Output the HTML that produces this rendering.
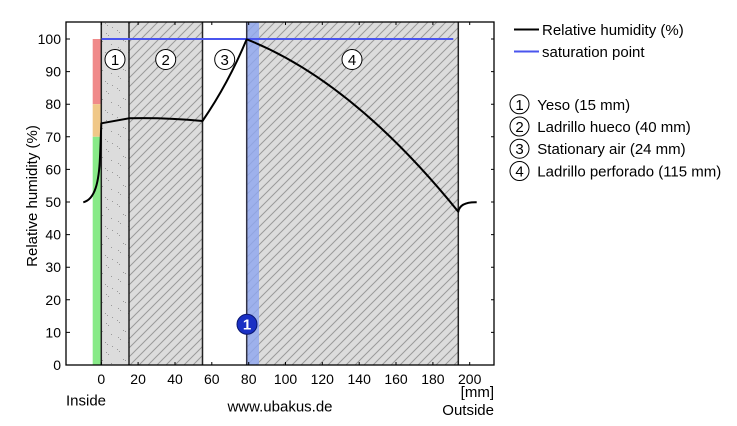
<!DOCTYPE html>
<html><head><meta charset="utf-8"><style>
html,body{margin:0;padding:0;background:#fff;}
svg{display:block;}
text{font-family:"Liberation Sans",Arial,sans-serif;font-size:15px;fill:#000;}
text.tk{font-size:14px;}
</style></head><body>
<svg width="737" height="426" viewBox="0 0 737 426" xmlns="http://www.w3.org/2000/svg">
<defs>
<pattern id="hatch" patternUnits="userSpaceOnUse" width="9" height="9">
<rect width="9" height="9" fill="#dcdcdc"/>
<path d="M-1,10 L10,-1 M-1,1 L1,-1 M8,10 L10,8" stroke="#9a9a9a" stroke-width="1"/>
</pattern>
<pattern id="speck" patternUnits="userSpaceOnUse" width="23" height="29">
<rect width="23" height="29" fill="#dcdcdc"/>
<g fill="#9a9a9a">
<rect x="2" y="1" width="1" height="1"/><rect x="4" y="3" width="1" height="1"/>
<rect x="14" y="4" width="1" height="1"/><rect x="16" y="6" width="1" height="1"/>
<rect x="8" y="11" width="1" height="1"/><rect x="10" y="12" width="1" height="1"/>
<rect x="19" y="15" width="1" height="1"/><rect x="3" y="18" width="1" height="1"/>
<rect x="5" y="20" width="1" height="1"/><rect x="13" y="23" width="1" height="1"/>
<rect x="15" y="25" width="1" height="1"/><rect x="20" y="27" width="1" height="1"/>
</g>
</pattern>
</defs>

<!-- layers -->
<rect x="101.3" y="22" width="27.7" height="343" fill="url(#speck)"/>
<rect x="129" y="22" width="73.5" height="343" fill="url(#hatch)"/>
<rect x="246.7" y="22" width="211.6" height="343" fill="url(#hatch)"/>
<rect x="246.7" y="22" width="12.3" height="343" fill="#8fa6f0" opacity="0.8"/>

<!-- colorbar -->
<rect x="92.7" y="39" width="8" height="65.2" fill="#f08a8a"/>
<rect x="92.7" y="104.2" width="8" height="32.6" fill="#f0c888"/>
<rect x="92.7" y="136.8" width="8" height="228.2" fill="#88ea88"/>

<!-- layer boundaries -->
<g stroke="#222" stroke-width="1.5">
<line x1="101.3" y1="22" x2="101.3" y2="365"/>
<line x1="129" y1="22" x2="129" y2="365"/>
<line x1="202.5" y1="22" x2="202.5" y2="365"/>
<line x1="246.7" y1="22" x2="246.7" y2="365" stroke="#334"/>
<line x1="458.3" y1="22" x2="458.3" y2="365"/>
</g>

<!-- saturation line -->
<line x1="101.5" y1="39" x2="453.3" y2="39" stroke="#4a55ee" stroke-width="2"/>

<!-- humidity curve -->
<path d="M83.3,202.3 C95,199.5 99,182 100,157 C100.8,140 101,130 101.3,123.3 L129,118.3 Q166,117.5 202.5,121 Q228,84 246.7,39.3 Q352.5,81 458.3,211.7 C459.5,205 466,202 476.7,202.3" fill="none" stroke="#000" stroke-width="2" stroke-linejoin="round"/>

<!-- layer number circles -->
<g fill="#fff" stroke="#000" stroke-width="1">
<circle cx="115" cy="59.5" r="10"/>
<circle cx="165.7" cy="59.5" r="10"/>
<circle cx="224.7" cy="59.5" r="10"/>
<circle cx="352" cy="59.5" r="10"/>
</g>
<g text-anchor="middle">
<text x="115" y="65">1</text>
<text x="165.7" y="65">2</text>
<text x="224.7" y="65">3</text>
<text x="352" y="65">4</text>
</g>

<!-- blue marker -->
<circle cx="247" cy="324.3" r="10" fill="#1a30c4" stroke="#0a1670" stroke-width="1"/>
<text x="247" y="329.5" text-anchor="middle" style="fill:#fff;font-weight:bold">1</text>

<!-- frame -->
<rect x="66" y="22" width="428" height="343" fill="none" stroke="#000" stroke-width="1.3"/>

<!-- ticks -->
<g stroke="#000" stroke-width="1">
<path d="M66,39h4M66,71.6h4M66,104.2h4M66,136.8h4M66,169.4h4M66,202h4M66,234.6h4M66,267.2h4M66,299.8h4M66,332.4h4M66,365h4"/>
<path d="M494,39h-3M494,71.6h-3M494,104.2h-3M494,136.8h-3M494,169.4h-3M494,202h-3M494,234.6h-3M494,267.2h-3M494,299.8h-3M494,332.4h-3"/>
<path d="M101.3,365v-3M138.1,365v-3M175,365v-3M211.8,365v-3M248.7,365v-3M285.5,365v-3M322.3,365v-3M359.2,365v-3M396,365v-3M432.9,365v-3M469.7,365v-3"/>
<path d="M101.3,22v3M138.1,22v3M175,22v3M211.8,22v3M248.7,22v3M285.5,22v3M322.3,22v3M359.2,22v3M396,22v3M432.9,22v3M469.7,22v3"/>
</g>

<!-- y tick labels -->
<g text-anchor="end">
<text class="tk" x="61" y="44">100</text>
<text class="tk" x="61" y="76.6">90</text>
<text class="tk" x="61" y="109.2">80</text>
<text class="tk" x="61" y="141.8">70</text>
<text class="tk" x="61" y="174.4">60</text>
<text class="tk" x="61" y="207">50</text>
<text class="tk" x="61" y="239.6">40</text>
<text class="tk" x="61" y="272.2">30</text>
<text class="tk" x="61" y="304.8">20</text>
<text class="tk" x="61" y="337.4">10</text>
<text class="tk" x="61" y="370">0</text>
</g>

<!-- x tick labels -->
<g text-anchor="middle">
<text class="tk" x="101.3" y="384">0</text>
<text class="tk" x="138.1" y="384">20</text>
<text class="tk" x="175" y="384">40</text>
<text class="tk" x="211.8" y="384">60</text>
<text class="tk" x="248.7" y="384">80</text>
<text class="tk" x="285.5" y="384">100</text>
<text class="tk" x="322.3" y="384">120</text>
<text class="tk" x="359.2" y="384">140</text>
<text class="tk" x="396" y="384">160</text>
<text class="tk" x="432.9" y="384">180</text>
<text class="tk" x="469.7" y="384">200</text>
</g>

<text x="494" y="397" text-anchor="end">[mm]</text>
<text x="494" y="415" text-anchor="end">Outside</text>
<text x="66" y="405.5">Inside</text>
<text x="280" y="411.5" text-anchor="middle">www.ubakus.de</text>

<text transform="translate(37,196) rotate(-90)" text-anchor="middle">Relative humidity (%)</text>

<!-- legend -->
<line x1="514" y1="29.5" x2="539" y2="29.5" stroke="#000" stroke-width="2"/>
<text x="542" y="35">Relative humidity (%)</text>
<line x1="514" y1="51.5" x2="539" y2="51.5" stroke="#4a55ee" stroke-width="2"/>
<text x="542" y="57">saturation point</text>

<g fill="#fff" stroke="#000" stroke-width="1">
<circle cx="519.5" cy="104.3" r="9.5"/>
<circle cx="519.5" cy="126.5" r="9.5"/>
<circle cx="519.5" cy="148.7" r="9.5"/>
<circle cx="519.5" cy="171" r="9.5"/>
</g>
<g text-anchor="middle">
<text x="519.5" y="109.8">1</text>
<text x="519.5" y="132">2</text>
<text x="519.5" y="154.2">3</text>
<text x="519.5" y="176.5">4</text>
</g>
<text x="537.3" y="109.8">Yeso (15 mm)</text>
<text x="537.3" y="132">Ladrillo hueco (40 mm)</text>
<text x="537.3" y="154.2">Stationary air (24 mm)</text>
<text x="537.3" y="176.5">Ladrillo perforado (115 mm)</text>
</svg>
</body></html>
